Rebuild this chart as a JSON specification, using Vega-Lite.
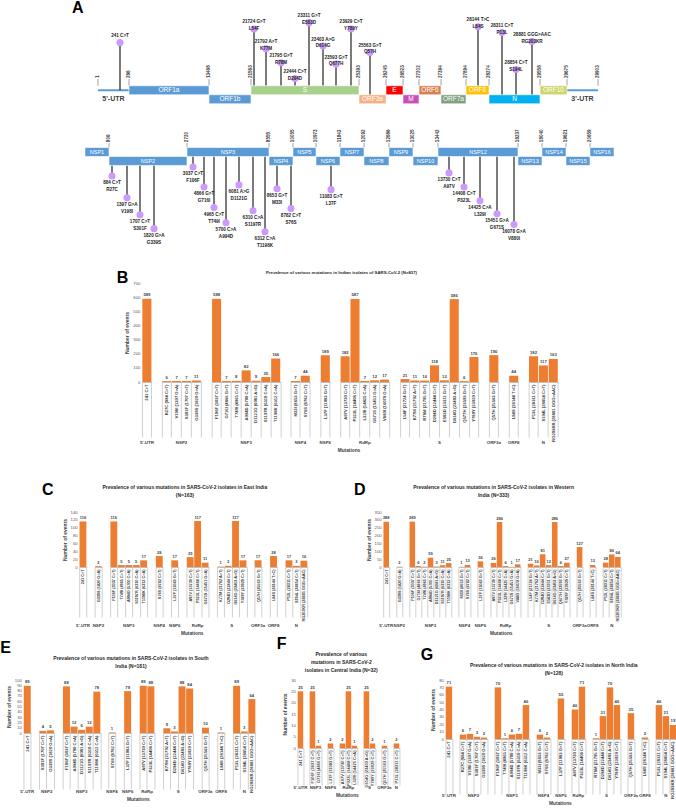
{
"$schema":"https://vega.github.io/schema/vega-lite/v6.json",
"padding":0,
"background":"#ffffff",
"config":{
 "font":"Liberation Sans",
 "view":{"stroke":null},
 "axisX":{"title":null,"labelAngle":270,"labelFontWeight":"bold","labelColor":"#404040","tickBand":"extent","tickColor":"#d0d0d0","domainColor":"#bfbfbf","labelFont":"Liberation Sans"},
 "axisY":{"domain":false,"ticks":false,"grid":false,"labelFontSize":4.3,"labelColor":"#595959","titleFontSize":5,"titleFontWeight":"bold","titleColor":"#404040","labelPadding":2,"titlePadding":3,"labelFont":"Liberation Sans","titleFont":"Liberation Sans"},
 "header":{"labelOrient":"bottom","titleOrient":"bottom","labelFontSize":4.4,"labelFontWeight":"bold","labelColor":"#404040","titleFontSize":4.8,"titleFontWeight":"bold","titlePadding":-7,"titleColor":"#404040","labelFont":"Liberation Sans","titleFont":"Liberation Sans"},
 "title":{"font":"Liberation Sans","color":"#262626"}
},
"datasets":{
 "gt":[{"n":"ORF1a","s":266,"e":13468,"k":0},{"n":"ORF1b","s":13468,"e":21563,"k":-1},{"n":"S","s":21563,"e":25393,"k":0},{"n":"ORF3a","s":25393,"e":26245,"k":-1},{"n":"E","s":26245,"e":26523,"k":0},{"n":"M","s":26523,"e":27202,"k":-1},{"n":"ORF6","s":27202,"e":27394,"k":0},{"n":"ORF7a","s":27394,"e":27894,"k":-1},{"n":"ORF8","s":27894,"e":28274,"k":0},{"n":"N","s":28274,"e":29558,"k":-1},{"n":"ORF10","s":29558,"e":29675,"k":0}],
 "gn":[{"n":"NSP1","s":266,"e":806,"k":0},{"n":"NSP2","s":806,"e":2720,"k":-1},{"n":"NSP3","s":2720,"e":8555,"k":0},{"n":"NSP4","s":8555,"e":10055,"k":-1},{"n":"NSP5","s":10055,"e":10973,"k":0},{"n":"NSP6","s":10973,"e":11843,"k":-1},{"n":"NSP7","s":11843,"e":12092,"k":0},{"n":"NSP8","s":12092,"e":12686,"k":-1},{"n":"NSP9","s":12686,"e":13025,"k":0},{"n":"NSP10","s":13025,"e":13442,"k":-1},{"n":"NSP12","s":13442,"e":16237,"k":0},{"n":"NSP13","s":16237,"e":18040,"k":-1},{"n":"NSP14","s":18040,"e":19621,"k":0},{"n":"NSP15","s":19621,"e":20659,"k":-1},{"n":"NSP16","s":20659,"e":21555,"k":0}],
 "bt":[{"b":1},{"b":266},{"b":13468},{"b":21563},{"b":25393},{"b":26245},{"b":26523},{"b":27202},{"b":27394},{"b":27894},{"b":28274},{"b":29558},{"b":29675},{"b":29903}],
 "bn":[{"b":806},{"b":2720},{"b":8555},{"b":10055},{"b":10973},{"b":11843},{"b":12092},{"b":12686},{"b":13025},{"b":13442},{"b":16237},{"b":18040},{"b":19621},{"b":20659}],
 "utr":[{"s":1,"e":266,"t":"5'-UTR"},{"s":29675,"e":29903,"t":"3'-UTR"}],
 "mt":[{"pos":241,"t":"241 C>T","lvl":5.3,"k":0},{"pos":21724,"t":"21724 G>T\nL54F","lvl":6.8,"k":0},{"pos":21792,"t":"21792 A>T\nK77M","lvl":4.6,"k":0},{"pos":21795,"t":"21795 G>T\nR78M","lvl":3.05,"k":0},{"pos":22444,"t":"22444 C>T\nD294D","lvl":1.3,"k":0},{"pos":23311,"t":"23311 G>T\nE583D","lvl":7.5,"k":0},{"pos":23403,"t":"23403 A>G\nD614G","lvl":4.9,"k":0},{"pos":23593,"t":"23593 G>T\nQ677H","lvl":2.9,"k":0},{"pos":23929,"t":"23929 C>T\nY789Y","lvl":6.8,"k":0},{"pos":25563,"t":"25563 G>T\nQ57H","lvl":4.2,"k":-1},{"pos":28144,"t":"28144 T>C\nL84S","lvl":7.05,"k":0},{"pos":28311,"t":"28311 C>T\nP13L","lvl":6.4,"k":-1},{"pos":28854,"t":"28854 C>T\nS194L","lvl":2.3,"k":-1},{"pos":28881,"t":"28881 GGG>AAC\nRG203KR","lvl":5.4,"k":-1}],
 "mn":[{"pos":884,"t":"884 C>T\nR27C","lvl":-2.67,"k":-1},{"pos":1397,"t":"1397 G>A\nV198I","lvl":-5.1,"k":-1},{"pos":1707,"t":"1707 C>T\nS301F","lvl":-7.0,"k":-1},{"pos":1820,"t":"1820 G>A\nG339S","lvl":-8.55,"k":-1},{"pos":3037,"t":"3037 C>T\nF106F","lvl":-1.67,"k":0},{"pos":4866,"t":"4866 G>T\nG716I","lvl":-3.9,"k":0},{"pos":4965,"t":"4965 C>T\nT749I","lvl":-6.2,"k":0},{"pos":5700,"t":"5700 C>A\nA994D","lvl":-7.9,"k":0},{"pos":6081,"t":"6081 A>G\nD1121G","lvl":-3.67,"k":0},{"pos":6310,"t":"6310 C>A\nS1197R","lvl":-6.55,"k":0},{"pos":6312,"t":"6312 C>A\nT1198K","lvl":-8.9,"k":0},{"pos":8653,"t":"8653 G>T\nM33I","lvl":-4.1,"k":-1},{"pos":8782,"t":"8782 C>T\nS76S","lvl":-6.3,"k":-1},{"pos":11083,"t":"11083 G>T\nL37F","lvl":-4.2,"k":-1},{"pos":13730,"t":"13730 C>T\nA97V","lvl":-2.33,"k":0},{"pos":14408,"t":"14408 C>T\nP323L","lvl":-3.9,"k":0},{"pos":14425,"t":"14425 C>A\nL329I","lvl":-5.45,"k":0},{"pos":15451,"t":"15451 G>A\nG671S","lvl":-6.9,"k":0},{"pos":16078,"t":"16078 G>A\nV880I","lvl":-8.1,"k":0}],
 "B":[{"g":"5'-UTR","m":"241 C>T","v":589},{"g":"NSP2","m":"R27C (884 C>T)","v":6},{"g":"NSP2","m":"V198I (1397 G>A)","v":7},{"g":"NSP2","m":"S301F (1707 C>T)","v":7},{"g":"NSP2","m":"G339S (1820 G>A)","v":11},{"g":"NSP3","m":"F106F (3037 C>T)","v":588},{"g":"NSP3","m":"G716I (4866 G>T)","v":7},{"g":"NSP3","m":"T749I (4965 C>T)","v":8},{"g":"NSP3","m":"A994D (5700 C>A)","v":82},{"g":"NSP3","m":"D1121G (6081 A>G)","v":9},{"g":"NSP3","m":"S1197R (6310 C>A)","v":35},{"g":"NSP3","m":"T1198K (6312 C>A)","v":166},{"g":"NSP4","m":"M33I (8653 G>T)","v":7},{"g":"NSP4","m":"S76S (8782 C>T)","v":44},{"g":"NSP6","m":"L37F (11083 G>T)","v":189},{"g":"RdRp","m":"A97V (13730 C>T)","v":182},{"g":"RdRp","m":"P323L (14408 C>T)","v":587},{"g":"RdRp","m":"L329I (14425 C>A)","v":7},{"g":"RdRp","m":"G671S (15451 G>A)","v":12},{"g":"RdRp","m":"V880I (16078 G>A)","v":17},{"g":"S","m":"L54F (21724 G>T)","v":21},{"g":"S","m":"K77M (21792 A>T)","v":11},{"g":"S","m":"R78M (21795 G>T)","v":10},{"g":"S","m":"D294D (22444 C>T)","v":118},{"g":"S","m":"E583D (23311 G>T)","v":12},{"g":"S","m":"D614G (23403 A>G)","v":586},{"g":"S","m":"Q677H (23593 G>T)","v":6},{"g":"S","m":"Y789Y (23929 C>T)","v":176},{"g":"ORF3a","m":"Q57H (25563 G>T)","v":190},{"g":"ORF8","m":"L84S (28144 T>C)","v":44},{"g":"N","m":"P13L (28311 C>T)","v":182},{"g":"N","m":"S194L (28854 C>T)","v":117},{"g":"N","m":"RG203KR (28881 GGG>AAC)","v":163}],
 "C":[{"g":"5'-UTR","m":"241 C>T","v":116},{"g":"NSP2","m":"G339S (1820 G>A)","v":2},{"g":"NSP3","m":"F106F (3037 C>T)","v":116},{"g":"NSP3","m":"T749I (4965 C>T)","v":5},{"g":"NSP3","m":"A994D (5700 C>A)","v":5},{"g":"NSP3","m":"S1197R (6310 C>A)","v":5},{"g":"NSP3","m":"T1198K (6312 C>A)","v":17},{"g":"NSP4","m":"S76S (8782 C>T)","v":28},{"g":"NSP6","m":"L37F (11083 G>T)","v":17},{"g":"RdRp","m":"A97V (13730 C>T)","v":25},{"g":"RdRp","m":"P323L (14408 C>T)","v":117},{"g":"RdRp","m":"G671S (15451 G>A)","v":11},{"g":"S","m":"K77M (21792 A>T)","v":1},{"g":"S","m":"D294D (22444 C>T)","v":3},{"g":"S","m":"D614G (23403 A>G)","v":117},{"g":"S","m":"Y789Y (23929 C>T)","v":17},{"g":"ORF3a","m":"Q57H (25563 G>T)","v":17},{"g":"ORF8","m":"L84S (28144 T>C)","v":28},{"g":"N","m":"P13L (28311 C>T)","v":17},{"g":"N","m":"S194L (28854 C>T)","v":3},{"g":"N","m":"RG203KR (28881 GGG>AAC)","v":16}],
 "D":[{"g":"5'-UTR","m":"241 C>T","v":288},{"g":"NSP2","m":"G339S (1820 G>A)","v":2},{"g":"NSP3","m":"F106F (3037 C>T)","v":289},{"g":"NSP3","m":"G716I (4866 G>T)","v":6},{"g":"NSP3","m":"T749I (4965 C>T)","v":2},{"g":"NSP3","m":"A994D (5700 C>A)","v":59},{"g":"NSP3","m":"D1121G (6081 A>G)","v":3},{"g":"NSP3","m":"S1197R (6310 C>A)","v":11},{"g":"NSP3","m":"T1198K (6312 C>A)","v":25},{"g":"NSP4","m":"M33I (8653 G>T)","v":1},{"g":"NSP4","m":"S76S (8782 C>T)","v":13},{"g":"NSP6","m":"L37F (11083 G>T)","v":36},{"g":"RdRp","m":"A97V (13730 C>T)","v":26},{"g":"RdRp","m":"P323L (14408 C>T)","v":286},{"g":"RdRp","m":"L329I (14425 C>A)","v":6},{"g":"RdRp","m":"G671S (15451 G>A)","v":1},{"g":"RdRp","m":"V880I (16078 G>A)","v":17},{"g":"S","m":"L54F (21724 G>T)","v":21},{"g":"S","m":"K77M (21792 A>T)","v":10},{"g":"S","m":"D294D (22444 C>T)","v":81},{"g":"S","m":"E583D (23311 G>T)","v":12},{"g":"S","m":"D614G (23403 A>G)","v":286},{"g":"S","m":"Q677H (23593 G>T)","v":6},{"g":"S","m":"Y789Y (23929 C>T)","v":27},{"g":"ORF3a","m":"Q57H (25563 G>T)","v":127},{"g":"ORF8","m":"L84S (28144 T>C)","v":13},{"g":"N","m":"P13L (28311 C>T)","v":28},{"g":"N","m":"S194L (28854 C>T)","v":80},{"g":"N","m":"RG203KR (28881 GGG>AAC)","v":64}],
 "E":[{"g":"5'-UTR","m":"241 C>T","v":89},{"g":"NSP2","m":"S301F (1707 C>T)","v":4},{"g":"NSP2","m":"G339S (1820 G>A)","v":5},{"g":"NSP3","m":"F106F (3037 C>T)","v":88},{"g":"NSP3","m":"A994D (5700 C>A)","v":12},{"g":"NSP3","m":"D1121G (6081 A>G)","v":6},{"g":"NSP3","m":"S1197R (6310 C>A)","v":12},{"g":"NSP3","m":"T1198K (6312 C>A)","v":78},{"g":"NSP4","m":"S76S (8782 C>T)","v":1},{"g":"NSP6","m":"L37F (11083 G>T)","v":79},{"g":"RdRp","m":"A97V (13730 C>T)","v":89},{"g":"RdRp","m":"P323L (14408 C>T)","v":88},{"g":"S","m":"K77M (21792 A>T)","v":9},{"g":"S","m":"D294D (22444 C>T)","v":3},{"g":"S","m":"D614G (23403 A>G)","v":88},{"g":"S","m":"Y789Y (23929 C>T)","v":84},{"g":"ORF3a","m":"Q57H (25563 G>T)","v":10},{"g":"ORF8","m":"L84S (28144 T>C)","v":1},{"g":"N","m":"P13L (28311 C>T)","v":89},{"g":"N","m":"S194L (28854 C>T)","v":3},{"g":"N","m":"RG203KR (28881 GGG>AAC)","v":64}],
 "F":[{"g":"5'-UTR","m":"241 C>T","v":25},{"g":"NSP3","m":"F106F (3037 C>T)","v":25},{"g":"NSP3","m":"G716I (4866 G>T)","v":1},{"g":"NSP6","m":"L37F (11083 G>T)","v":2},{"g":"RdRp","m":"A97V (13730 C>T)","v":2},{"g":"RdRp","m":"P323L (14408 C>T)","v":25},{"g":"RdRp","m":"L329I (14425 C>A)","v":1},{"g":"S","m":"D614G (23403 A>G)","v":25},{"g":"S","m":"Y789Y (23929 C>T)","v":2},{"g":"ORF3a","m":"Q57H (25563 G>T)","v":1},{"g":"N","m":"P13L (28311 C>T)","v":2}],
 "G":[{"g":"5'-UTR","m":"241 C>T","v":71},{"g":"NSP2","m":"R27C (884 C>T)","v":6},{"g":"NSP2","m":"V198I (1397 G>A)","v":7},{"g":"NSP2","m":"S301F (1707 C>T)","v":3},{"g":"NSP2","m":"G339S (1820 G>A)","v":2},{"g":"NSP3","m":"F106F (3037 C>T)","v":70},{"g":"NSP3","m":"T749I (4965 C>T)","v":1},{"g":"NSP3","m":"A994D (5700 C>A)","v":6},{"g":"NSP3","m":"S1197R (6310 C>A)","v":7},{"g":"NSP3","m":"T1198K (6312 C>A)","v":46},{"g":"NSP4","m":"M33I (8653 G>T)","v":6},{"g":"NSP4","m":"S76S (8782 C>T)","v":2},{"g":"NSP6","m":"L37F (11083 G>T)","v":55},{"g":"RdRp","m":"A97V (13730 C>T)","v":40},{"g":"RdRp","m":"P323L (14408 C>T)","v":71},{"g":"S","m":"R78M (21795 G>T)","v":1},{"g":"S","m":"D294D (22444 C>T)","v":31},{"g":"S","m":"D614G (23403 A>G)","v":70},{"g":"S","m":"Y789Y (23929 C>T)","v":46},{"g":"ORF3a","m":"Q57H (25563 G>T)","v":35},{"g":"ORF8","m":"L84S (28144 T>C)","v":2},{"g":"N","m":"P13L (28311 C>T)","v":46},{"g":"N","m":"S194L (28854 C>T)","v":31},{"g":"N","m":"RG203KR (28881 GGG>AAC)","v":19}]
},
"vconcat":[
 {"vconcat":[
  {"width":676,"height":110,
   "title":{"text":"A","anchor":"start","frame":"group","fontSize":16,"fontWeight":"bold","offset":-15,"dx":60,"color":"#000"},
   "resolve":{"scale":{"x":"independent"}},
   "layer":[
    {"data":{"name":"bt"},"mark":{"type":"rule","color":"#8c8c8c","strokeWidth":0.8},
     "encoding":{"x":{"field":"b","type":"quantitative","scale":{"type":"linear","domain":[1,266,13468,21563,25393,26245,26523,27202,27394,27894,28274,29558,29675,29903],"range":[86,117,197,239,347,374,391,407,429,454,477,528,555,586],"zero":false,"nice":false},"axis":null},
      "y":{"datum":0.5,"type":"quantitative","scale":{"domain":[-2.3,9.9],"zero":false,"nice":false},"axis":null},"y2":{"datum":1.25}}},
    {"data":{"name":"bt"},"mark":{"type":"text","angle":270,"align":"left","baseline":"middle","fontSize":4.6,"fontWeight":"bold","color":"#404040"},
     "encoding":{"x":{"field":"b","type":"quantitative","scale":{"type":"linear","domain":[1,266,13468,21563,25393,26245,26523,27202,27394,27894,28274,29558,29675,29903],"range":[86,117,197,239,347,374,391,407,429,454,477,528,555,586],"zero":false,"nice":false},"axis":null},"y":{"datum":1.35,"type":"quantitative"},"text":{"field":"b","type":"nominal"}}},
    {"data":{"name":"utr"},"mark":{"type":"rule","color":"#5B9BD5","strokeWidth":2},
     "encoding":{"x":{"field":"s","type":"quantitative","scale":{"type":"linear","domain":[1,266,13468,21563,25393,26245,26523,27202,27394,27894,28274,29558,29675,29903],"range":[86,117,197,239,347,374,391,407,429,454,477,528,555,586],"zero":false,"nice":false},"axis":null},"x2":{"field":"e"},"y":{"datum":0,"type":"quantitative"}}},
    {"data":{"name":"utr"},"transform":[{"calculate":"(datum.s+datum.e)/2","as":"mid"}],"mark":{"type":"text","fontSize":7,"fontWeight":"bold","color":"#404040"},
     "encoding":{"x":{"field":"mid","type":"quantitative","scale":{"type":"linear","domain":[1,266,13468,21563,25393,26245,26523,27202,27394,27894,28274,29558,29675,29903],"range":[86,117,197,239,347,374,391,407,429,454,477,528,555,586],"zero":false,"nice":false},"axis":null},"y":{"datum":-1,"type":"quantitative"},"text":{"field":"t","type":"nominal"}}},
    {"data":{"name":"mt"},"mark":{"type":"rule","color":"#222222","strokeWidth":1.2},
     "encoding":{"x":{"field":"pos","type":"quantitative","scale":{"type":"linear","domain":[1,241,266,13468,21563,21724,21792,21795,22444,23311,23403,23593,23929,25393,25563,26245,26523,27202,27394,27894,28144,28274,28311,28854,28881,29558,29675,29903],"range":[86,108,117,197,239,242,254,269,283,297,311,324,339,347,358,374,391,407,429,454,466,477,490,504,520,528,555,586],"zero":false,"nice":false},"axis":null},"y":{"field":"lvl","type":"quantitative"},"y2":{"field":"k"}}},
    {"data":{"name":"gt"},"transform":[{"calculate":"datum.k-0.5","as":"y0"},{"calculate":"datum.k+0.5","as":"y1"}],"mark":{"type":"rect","stroke":"#ffffff","strokeWidth":0.6},
     "encoding":{"x":{"field":"s","type":"quantitative","scale":{"type":"linear","domain":[1,266,13468,21563,25393,26245,26523,27202,27394,27894,28274,29558,29675,29903],"range":[86,117,197,239,347,374,391,407,429,454,477,528,555,586],"zero":false,"nice":false},"axis":null},"x2":{"field":"e"},"y":{"field":"y0","type":"quantitative"},"y2":{"field":"y1"},
      "color":{"field":"n","type":"nominal","legend":null,"scale":{"domain":["ORF1a","ORF1b","S","ORF3a","E","M","ORF6","ORF7a","ORF8","N","ORF10"],"range":["#5B9BD5","#5B9BD5","#A9D18E","#F4B183","#FF0000","#C94FB8","#D9804F","#80A080","#FFC000","#00B0F0","#CDD66A"]}}}},
    {"data":{"name":"gt"},"transform":[{"calculate":"(datum.s+datum.e)/2","as":"mid"}],"mark":{"type":"text","color":"#ffffff","fontSize":6.5},
     "encoding":{"x":{"field":"mid","type":"quantitative","scale":{"type":"linear","domain":[1,266,13468,21563,25393,26245,26523,27202,27394,27894,28274,29558,29675,29903],"range":[86,117,197,239,347,374,391,407,429,454,477,528,555,586],"zero":false,"nice":false},"axis":null},"y":{"field":"k","type":"quantitative"},"text":{"field":"n","type":"nominal"}}},
    {"data":{"name":"mt"},"mark":{"type":"circle","size":50,"color":"#CC99FF","opacity":1},
     "encoding":{"x":{"field":"pos","type":"quantitative","scale":{"type":"linear","domain":[1,241,266,13468,21563,21724,21792,21795,22444,23311,23403,23593,23929,25393,25563,26245,26523,27202,27394,27894,28144,28274,28311,28854,28881,29558,29675,29903],"range":[86,108,117,197,239,242,254,269,283,297,311,324,339,347,358,374,391,407,429,454,466,477,490,504,520,528,555,586],"zero":false,"nice":false},"axis":null},"y":{"field":"lvl","type":"quantitative"}}},
    {"data":{"name":"mt"},"mark":{"type":"text","baseline":"bottom","dy":-4.5,"lineBreak":"\n","fontSize":4.6,"fontWeight":"bold","color":"#222222"},
     "encoding":{"x":{"field":"pos","type":"quantitative","scale":{"type":"linear","domain":[1,241,266,13468,21563,21724,21792,21795,22444,23311,23403,23593,23929,25393,25563,26245,26523,27202,27394,27894,28144,28274,28311,28854,28881,29558,29675,29903],"range":[86,108,117,197,239,242,254,269,283,297,311,324,339,347,358,374,391,407,429,454,466,477,490,504,520,528,555,586],"zero":false,"nice":false},"axis":null},"y":{"field":"lvl","type":"quantitative"},"text":{"field":"t","type":"nominal"}}}
   ]},
  {"width":676,"height":130,
   "resolve":{"scale":{"x":"independent"}},
   "layer":[
    {"data":{"name":"bn"},"mark":{"type":"rule","color":"#8c8c8c","strokeWidth":0.8},
     "encoding":{"x":{"field":"b","type":"quantitative","scale":{"type":"linear","domain":[266,806,2720,8555,10055,10973,11843,12092,12686,13025,13442,16237,18040,19621,20659,21555],"range":[73,97,175,257,281,304,328,352,377,401,426,506,530,554,578,602],"zero":false,"nice":false},"axis":null},
      "y":{"datum":0.5,"type":"quantitative","scale":{"domain":[-11.6,2.9],"zero":false,"nice":false},"axis":null},"y2":{"datum":1.0}}},
    {"data":{"name":"bn"},"mark":{"type":"text","angle":270,"align":"left","baseline":"middle","fontSize":4.6,"fontWeight":"bold","color":"#404040"},
     "encoding":{"x":{"field":"b","type":"quantitative","scale":{"type":"linear","domain":[266,806,2720,8555,10055,10973,11843,12092,12686,13025,13442,16237,18040,19621,20659,21555],"range":[73,97,175,257,281,304,328,352,377,401,426,506,530,554,578,602],"zero":false,"nice":false},"axis":null},"y":{"datum":1.1,"type":"quantitative"},"text":{"field":"b","type":"nominal"}}},
    {"data":{"name":"mn"},"mark":{"type":"rule","color":"#222222","strokeWidth":1.2},
     "encoding":{"x":{"field":"pos","type":"quantitative","scale":{"type":"linear","domain":[266,806,884,1397,1707,1820,2720,3037,4866,4965,5700,6081,6310,6312,8555,8653,8782,10055,10973,11083,11843,12092,12686,13025,13442,13730,14408,14425,15451,16078,16237,18040,19621,20659,21555],"range":[73,97,100,115,128,142,175,181,192,202,214,227,241,253,257,265,279,281,304,319,328,352,377,401,426,437,452,468,485,502,506,530,554,578,602],"zero":false,"nice":false},"axis":null},"y":{"field":"lvl","type":"quantitative"},"y2":{"field":"k"}}},
    {"data":{"name":"gn"},"transform":[{"calculate":"datum.k-0.5","as":"y0"},{"calculate":"datum.k+0.5","as":"y1"}],"mark":{"type":"rect","fill":"#5B9BD5","stroke":"#ffffff","strokeWidth":0.6},
     "encoding":{"x":{"field":"s","type":"quantitative","scale":{"type":"linear","domain":[266,806,2720,8555,10055,10973,11843,12092,12686,13025,13442,16237,18040,19621,20659,21555],"range":[73,97,175,257,281,304,328,352,377,401,426,506,530,554,578,602],"zero":false,"nice":false},"axis":null},"x2":{"field":"e"},"y":{"field":"y0","type":"quantitative"},"y2":{"field":"y1"}}},
    {"data":{"name":"gn"},"transform":[{"calculate":"(datum.s+datum.e)/2","as":"mid"}],"mark":{"type":"text","color":"#ffffff","fontSize":5.5},
     "encoding":{"x":{"field":"mid","type":"quantitative","scale":{"type":"linear","domain":[266,806,2720,8555,10055,10973,11843,12092,12686,13025,13442,16237,18040,19621,20659,21555],"range":[73,97,175,257,281,304,328,352,377,401,426,506,530,554,578,602],"zero":false,"nice":false},"axis":null},"y":{"field":"k","type":"quantitative"},"text":{"field":"n","type":"nominal"}}},
    {"data":{"name":"mn"},"mark":{"type":"circle","size":50,"color":"#CC99FF","opacity":1},
     "encoding":{"x":{"field":"pos","type":"quantitative","scale":{"type":"linear","domain":[266,806,884,1397,1707,1820,2720,3037,4866,4965,5700,6081,6310,6312,8555,8653,8782,10055,10973,11083,11843,12092,12686,13025,13442,13730,14408,14425,15451,16078,16237,18040,19621,20659,21555],"range":[73,97,100,115,128,142,175,181,192,202,214,227,241,253,257,265,279,281,304,319,328,352,377,401,426,437,452,468,485,502,506,530,554,578,602],"zero":false,"nice":false},"axis":null},"y":{"field":"lvl","type":"quantitative"}}},
    {"data":{"name":"mn"},"mark":{"type":"text","baseline":"top","dy":4.5,"lineBreak":"\n","fontSize":4.6,"fontWeight":"bold","color":"#222222"},
     "encoding":{"x":{"field":"pos","type":"quantitative","scale":{"type":"linear","domain":[266,806,884,1397,1707,1820,2720,3037,4866,4965,5700,6081,6310,6312,8555,8653,8782,10055,10973,11083,11843,12092,12686,13025,13442,13730,14408,14425,15451,16078,16237,18040,19621,20659,21555],"range":[73,97,100,115,128,142,175,181,192,202,214,227,241,253,257,265,279,281,304,319,328,352,377,401,426,437,452,468,485,502,506,530,554,578,602],"zero":false,"nice":false},"axis":null},"y":{"field":"lvl","type":"quantitative"},"text":{"field":"t","type":"nominal"}}}
   ]}
 ],"spacing":15},
 {"vconcat":[
  {"title":{"text":"B","anchor":"start","fontSize":16,"fontWeight":"bold","offset":-15,"dx":-8,"color":"#000"},
   "vconcat":[{
    "data":{"name":"B"},
    "title":{"text":"Prevalence of various mutations in Indian isolates of SARS-CoV-2 (N=837)","fontSize":4.3,"fontWeight":"bold","anchor":"middle","offset":6},
    "facet":{"column":{"field":"g","type":"nominal","sort":["5'-UTR","NSP2","NSP3","NSP4","NSP6","RdRp","S","ORF3a","ORF8","N"],"title":"Mutations","header":{"labelPadding":59}}},
    "spacing":9.85,"bounds":"flush","align":"each",
    "resolve":{"scale":{"x":"independent"}},
    "spec":{"width":{"step":9.85},"height":99,
     "encoding":{"x":{"field":"m","type":"nominal","sort":null,"scale":{"paddingInner":0.08,"paddingOuter":0.04},"axis":{"labelFontSize":4.2,"tickSize":55,"labelPadding":-53}},
      "y":{"field":"v","type":"quantitative","scale":{"domain":[0,700],"nice":false},"axis":{"values":[0,100,200,300,400,500,600,700],"title":"Number of events"}}},
     "layer":[{"mark":{"type":"bar","color":"#ED7D31"}},{"mark":{"type":"text","baseline":"bottom","dy":-1.5,"fontSize":4.2,"fontWeight":"bold","color":"#404040"},"encoding":{"text":{"field":"v","type":"quantitative"}}}]}
   }]},
  {"vconcat":[
   {"hconcat":[
    {"title":{"text":"C","anchor":"start","fontSize":16,"fontWeight":"bold","offset":-13,"dx":-20,"color":"#000"},
     "vconcat":[{
      "data":{"name":"C"},
      "title":{"text":["Prevalence of various mutations in SARS-CoV-2 isolates in East India","(N=163)"],"fontSize":5,"lineHeight":8,"fontWeight":"bold","anchor":"middle","offset":12},
      "facet":{"column":{"field":"g","type":"nominal","sort":["5'-UTR","NSP2","NSP3","NSP4","NSP6","RdRp","S","ORF3a","ORF8","N"],"title":"Mutations","header":{"labelPadding":57}}},
      "spacing":7.45,"bounds":"flush","align":"each",
      "resolve":{"scale":{"x":"independent"}},
      "spec":{"width":{"step":7.45},"height":55,
       "encoding":{"x":{"field":"m","type":"nominal","sort":null,"scale":{"paddingInner":0.08,"paddingOuter":0.04},"axis":{"labelFontSize":3.8,"tickSize":50,"labelPadding":-48}},
        "y":{"field":"v","type":"quantitative","scale":{"domain":[0,140],"nice":false},"axis":{"values":[0,20,40,60,80,100,120,140],"title":"Number of events"}}},
       "layer":[{"mark":{"type":"bar","color":"#ED7D31"}},{"mark":{"type":"text","baseline":"bottom","dy":-1.5,"fontSize":4,"fontWeight":"bold","color":"#404040"},"encoding":{"text":{"field":"v","type":"quantitative"}}}]}
     }]},
    {"title":{"text":"D","anchor":"start","fontSize":16,"fontWeight":"bold","offset":-13,"dx":-12,"color":"#000"},
     "vconcat":[{
      "data":{"name":"D"},
      "title":{"text":["Prevalence of various mutations in SARS-CoV-2 isolates in Western","India (N=333)"],"fontSize":5,"lineHeight":8,"fontWeight":"bold","anchor":"middle","offset":12},
      "facet":{"column":{"field":"g","type":"nominal","sort":["5'-UTR","NSP2","NSP3","NSP4","NSP6","RdRp","S","ORF3a","ORF8","N"],"title":"Mutations","header":{"labelPadding":57}}},
      "spacing":6.05,"bounds":"flush","align":"each",
      "resolve":{"scale":{"x":"independent"}},
      "spec":{"width":{"step":6.05},"height":55,
       "encoding":{"x":{"field":"m","type":"nominal","sort":null,"scale":{"paddingInner":0.08,"paddingOuter":0.04},"axis":{"labelFontSize":3.8,"tickSize":50,"labelPadding":-48}},
        "y":{"field":"v","type":"quantitative","scale":{"domain":[0,350],"nice":false},"axis":{"values":[0,50,100,150,200,250,300,350],"title":"Number of events"}}},
       "layer":[{"mark":{"type":"bar","color":"#ED7D31"}},{"mark":{"type":"text","baseline":"bottom","dy":-1.5,"fontSize":4,"fontWeight":"bold","color":"#404040"},"encoding":{"text":{"field":"v","type":"quantitative"}}}]}
     }]}
   ],"spacing":45},
   {"hconcat":[
    {"title":{"text":"E","anchor":"start","fontSize":16,"fontWeight":"bold","offset":0,"dx":-6,"color":"#000"},
     "vconcat":[{
      "data":{"name":"E"},
      "title":{"text":["Prevalence of various mutations in SARS-CoV-2 isolates in South","India (N=181)"],"fontSize":5,"lineHeight":8,"fontWeight":"bold","anchor":"middle","offset":9},
      "facet":{"column":{"field":"g","type":"nominal","sort":["5'-UTR","NSP2","NSP3","NSP4","NSP6","RdRp","S","ORF3a","ORF8","N"],"title":"Mutations","header":{"labelPadding":57}}},
      "spacing":7.6,"bounds":"flush","align":"each",
      "resolve":{"scale":{"x":"independent"}},
      "spec":{"width":{"step":7.6},"height":53,
       "encoding":{"x":{"field":"m","type":"nominal","sort":null,"scale":{"paddingInner":0.08,"paddingOuter":0.04},"axis":{"labelFontSize":4.2,"tickSize":56,"labelPadding":-54}},
        "y":{"field":"v","type":"quantitative","scale":{"domain":[0,100],"nice":false},"axis":{"values":[0,10,20,30,40,50,60,70,80,90,100],"title":"Number of events"}}},
       "layer":[{"mark":{"type":"bar","color":"#ED7D31"}},{"mark":{"type":"text","baseline":"bottom","dy":-1.5,"fontSize":4.2,"fontWeight":"bold","color":"#404040"},"encoding":{"text":{"field":"v","type":"quantitative"}}}]}
     }]},
    {"title":{"text":"F","anchor":"start","fontSize":16,"fontWeight":"bold","offset":0,"dx":-6,"color":"#000"},
     "vconcat":[{
      "data":{"name":"F"},
      "title":{"text":["Prevalence of various","mutations in SARS-CoV-2","isolates in Central India (N=32)"],"fontSize":5,"lineHeight":8,"fontWeight":"bold","anchor":"middle","offset":5},
      "facet":{"column":{"field":"g","type":"nominal","sort":["5'-UTR","NSP2","NSP3","NSP4","NSP6","RdRp","S","ORF3a","ORF8","N"],"title":"Mutations","header":{"labelPadding":38}}},
      "spacing":6,"bounds":"flush","align":"each",
      "resolve":{"scale":{"x":"independent"}},
      "spec":{"width":{"step":6},"height":68,
       "encoding":{"x":{"field":"m","type":"nominal","sort":null,"scale":{"paddingInner":0.08,"paddingOuter":0.04},"axis":{"labelFontSize":4,"tickSize":37,"labelPadding":-35}},
        "y":{"field":"v","type":"quantitative","scale":{"domain":[0,30],"nice":false},"axis":{"values":[0,5,10,15,20,25,30],"title":"Number of events"}}},
       "layer":[{"mark":{"type":"bar","color":"#ED7D31"}},{"mark":{"type":"text","baseline":"bottom","dy":-1.5,"fontSize":4,"fontWeight":"bold","color":"#404040"},"encoding":{"text":{"field":"v","type":"quantitative"}}}]}
     }]},
    {"title":{"text":"G","anchor":"start","fontSize":16,"fontWeight":"bold","offset":0,"dx":-10,"color":"#000"},
     "vconcat":[{
      "data":{"name":"G"},
      "title":{"text":["Prevalence of various mutations in SARS-CoV-2 isolates in North India","(N=128)"],"fontSize":5,"lineHeight":8,"fontWeight":"bold","anchor":"middle","offset":2},
      "facet":{"column":{"field":"g","type":"nominal","sort":["5'-UTR","NSP2","NSP3","NSP4","NSP6","RdRp","S","ORF3a","ORF8","N"],"title":"Mutations","header":{"labelPadding":55}}},
      "spacing":7.0,"bounds":"flush","align":"each",
      "resolve":{"scale":{"x":"independent"}},
      "spec":{"width":{"step":7.0},"height":59,
       "encoding":{"x":{"field":"m","type":"nominal","sort":null,"scale":{"paddingInner":0.08,"paddingOuter":0.04},"axis":{"labelFontSize":4.2,"tickSize":55,"labelPadding":-53}},
        "y":{"field":"v","type":"quantitative","scale":{"domain":[0,80],"nice":false},"axis":{"values":[0,10,20,30,40,50,60,70,80],"title":"Number of events"}}},
       "layer":[{"mark":{"type":"bar","color":"#ED7D31"}},{"mark":{"type":"text","baseline":"bottom","dy":-1.5,"fontSize":4.2,"fontWeight":"bold","color":"#404040"},"encoding":{"text":{"field":"v","type":"quantitative"}}}]}
     }]}
   ],"spacing":20}
  ],"spacing":0,"center":true}
 ],"spacing":29,"center":true}
],
"spacing":13,
"center":true
}
